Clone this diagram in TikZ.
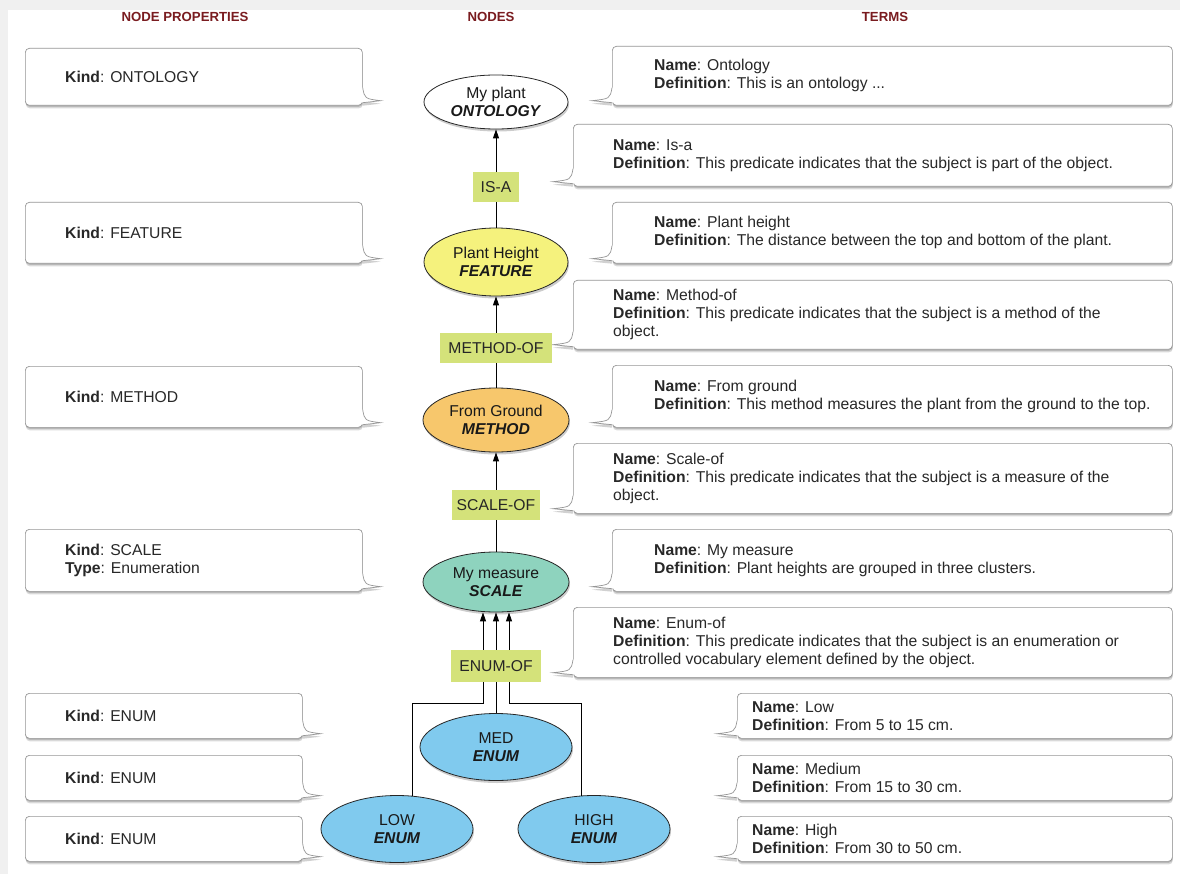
\documentclass[tikz,border=0pt]{standalone}
\usepackage{fontspec}
\setmainfont{Liberation Sans}
\usetikzlibrary{shapes.geometric,shadows,arrows.meta,calc}
\definecolor{hdr}{RGB}{122,28,32}
\definecolor{lblg}{RGB}{212,226,122}
\definecolor{cyel}{RGB}{245,242,125}
\definecolor{corg}{RGB}{247,199,108}
\definecolor{cteal}{RGB}{142,211,190}
\definecolor{cblue}{RGB}{128,202,238}
\definecolor{txt}{RGB}{40,40,40}
\definecolor{bline}{RGB}{150,150,150}
\newcommand\lpointer[1]{%
  \fill[black,opacity=0.18] ([yshift=15pt]#1.south east) .. controls ([xshift=2pt,yshift=4pt]#1.south east) .. ([xshift=18pt,yshift=2pt]#1.south east) -- ([yshift=0pt]#1.south east) -- cycle;
  \fill[white] ([xshift=-1.5pt,yshift=18pt]#1.south east) -- ([yshift=18pt]#1.south east) .. controls ([xshift=2pt,yshift=7pt]#1.south east) .. ([xshift=18pt,yshift=5pt]#1.south east) -- ([yshift=3pt]#1.south east) -- ([xshift=-1.5pt,yshift=3pt]#1.south east) -- cycle;
  \draw[callline] ([yshift=18pt]#1.south east) .. controls ([xshift=2pt,yshift=7pt]#1.south east) .. ([xshift=18pt,yshift=5pt]#1.south east) -- ([yshift=3pt]#1.south east);
}
\newcommand\rpointer[1]{%
  \fill[black,opacity=0.18] ([yshift=15pt]#1.south west) .. controls ([xshift=-2pt,yshift=4pt]#1.south west) .. ([xshift=-20pt,yshift=2pt]#1.south west) -- ([yshift=0pt]#1.south west) -- cycle;
  \fill[white] ([xshift=1.5pt,yshift=18pt]#1.south west) -- ([yshift=18pt]#1.south west) .. controls ([xshift=-2pt,yshift=7pt]#1.south west) .. ([xshift=-20pt,yshift=5pt]#1.south west) -- ([yshift=3pt]#1.south west) -- ([xshift=1.5pt,yshift=3pt]#1.south west) -- cycle;
  \draw[callline] ([yshift=18pt]#1.south west) .. controls ([xshift=-2pt,yshift=7pt]#1.south west) .. ([xshift=-20pt,yshift=5pt]#1.south west) -- ([yshift=3pt]#1.south west);
}
\begin{document}
\begin{tikzpicture}[x=1pt,y=-1pt,
  callline/.style={draw=bline, line width=0.7pt},
  callbox/.style={draw=bline, line width=0.7pt, fill=white, rounded corners=4pt, inner sep=0pt, anchor=north west,
    drop shadow={shadow xshift=0.5pt, shadow yshift=-3pt, opacity=0.15, fill=black},
    drop shadow={shadow xshift=0.3pt, shadow yshift=-1.5pt, opacity=0.15, fill=black}},
  ptext/.style={anchor=west, align=left, inner sep=0pt, text=txt, font=\fontsize{15.7}{18}\selectfont},
  hdrtext/.style={font=\bfseries\fontsize{13.2}{15}\selectfont, text=hdr, inner sep=0pt},
  ell/.style={ellipse, draw=black!85, line width=0.8pt, inner sep=0pt, align=center, text=black!90,
    font=\fontsize{15.7}{18}\selectfont,
    drop shadow={shadow xshift=1pt, shadow yshift=-2.5pt, opacity=0.2, fill=black}},
  lbl/.style={fill=lblg, inner sep=0pt, text=black!85, font=\fontsize{15.7}{17}\selectfont, minimum height=30pt},
  conn/.style={draw=black, line width=0.9pt},
  arr/.style={conn, -{Triangle[length=9pt,width=6pt]}}
]
\useasboundingbox (0,0) rectangle (1180,874);
\fill[black!6] (0,0) rectangle (1180,874);
\fill[white] (8,10) rectangle (1180,874);

% headers
\node[hdrtext] (h1) at (185,17) {NODE PROPERTIES};
\node[hdrtext] (h2) at (491,17) {NODES};
\node[hdrtext] (h3) at (885,17) {TERMS};

% left callouts
\node[callbox, minimum width=337pt, minimum height=57pt] (p1) at (25,48) {};
\node[callbox, minimum width=337pt, minimum height=61pt] (p2) at (25,202) {};
\node[callbox, minimum width=337pt, minimum height=61pt] (p3) at (25,366) {};
\node[callbox, minimum width=337pt, minimum height=62pt] (p4) at (25,529) {};
\node[callbox, minimum width=277pt, minimum height=45pt] (p5) at (25,693) {};
\node[callbox, minimum width=277pt, minimum height=45pt] (p6) at (25,755) {};
\node[callbox, minimum width=277pt, minimum height=45pt] (p7) at (25,816) {};
\foreach \n in {p1,p2,p3,p4,p5,p6,p7} {\lpointer{\n}}
\node[ptext] (p1t) at ([xshift=40pt]p1.west) {\textbf{Kind}: ONTOLOGY};
\node[ptext] (p2t) at ([xshift=40pt]p2.west) {\textbf{Kind}: FEATURE};
\node[ptext] (p3t) at ([xshift=40pt]p3.west) {\textbf{Kind}: METHOD};
\node[ptext] (p4t) at ([xshift=40pt]p4.west) {\textbf{Kind}: SCALE\\\textbf{Type}: Enumeration};
\node[ptext] (p5t) at ([xshift=40pt]p5.west) {\textbf{Kind}: ENUM};
\node[ptext] (p6t) at ([xshift=40pt]p6.west) {\textbf{Kind}: ENUM};
\node[ptext] (p7t) at ([xshift=40pt]p7.west) {\textbf{Kind}: ENUM};

% right callouts
\node[callbox, minimum width=560pt, minimum height=59pt] (t1) at (612,46) {};
\node[callbox, minimum width=599pt, minimum height=62pt] (t2) at (573,124) {};
\node[callbox, minimum width=560pt, minimum height=61pt] (t3) at (612,202) {};
\node[callbox, minimum width=599pt, minimum height=69pt] (t4) at (573,280) {};
\node[callbox, minimum width=560pt, minimum height=62pt] (t5) at (612,365) {};
\node[callbox, minimum width=599pt, minimum height=70pt] (t6) at (573,443) {};
\node[callbox, minimum width=560pt, minimum height=62pt] (t7) at (612,529) {};
\node[callbox, minimum width=599pt, minimum height=70pt] (t8) at (573,607) {};
\node[callbox, minimum width=435pt, minimum height=45pt] (t9) at (737,693) {};
\node[callbox, minimum width=435pt, minimum height=45pt] (t10) at (737,755) {};
\node[callbox, minimum width=435pt, minimum height=45pt] (t11) at (737,816) {};
\foreach \n in {t1,t2,t3,t4,t5,t6,t7,t8,t9,t10,t11} {\rpointer{\n}}
\node[ptext] (t1t) at ([xshift=42pt]t1.west) {\textbf{Name}: Ontology\\\textbf{Definition}: This is an ontology ...};
\node[ptext] (t2t) at ([xshift=40pt]t2.west) {\textbf{Name}: Is-a\\\textbf{Definition}: This predicate indicates that the subject is part of the object.};
\node[ptext] (t3t) at ([xshift=42pt]t3.west) {\textbf{Name}: Plant height\\\textbf{Definition}: The distance between the top and bottom of the plant.};
\node[ptext] (t4t) at ([xshift=40pt]t4.west) {\textbf{Name}: Method-of\\\textbf{Definition}: This predicate indicates that the subject is a method of the\\object.};
\node[ptext] (t5t) at ([xshift=42pt]t5.west) {\textbf{Name}: From ground\\\textbf{Definition}: This method measures the plant from the ground to the top.};
\node[ptext] (t6t) at ([xshift=40pt]t6.west) {\textbf{Name}: Scale-of\\\textbf{Definition}: This predicate indicates that the subject is a measure of the\\object.};
\node[ptext] (t7t) at ([xshift=42pt]t7.west) {\textbf{Name}: My measure\\\textbf{Definition}: Plant heights are grouped in three clusters.};
\node[ptext] (t8t) at ([xshift=40pt]t8.west) {\textbf{Name}: Enum-of\\\textbf{Definition}: This predicate indicates that the subject is an enumeration or\\controlled vocabulary element defined by the object.};
\node[ptext] (t9t) at ([xshift=15pt]t9.west) {\textbf{Name}: Low\\\textbf{Definition}: From 5 to 15 cm.};
\node[ptext] (t10t) at ([xshift=15pt]t10.west) {\textbf{Name}: Medium\\\textbf{Definition}: From 15 to 30 cm.};
\node[ptext] (t11t) at ([xshift=15pt]t11.west) {\textbf{Name}: High\\\textbf{Definition}: From 30 to 50 cm.};

% central nodes
\node[ell, fill=white, minimum width=144pt, minimum height=54pt] (onto) at (496,102) {My plant\\\textbf{\textit{ONTOLOGY}}};
\node[lbl, minimum width=46pt] (isa) at (496,187) {IS-A};
\node[ell, fill=cyel, minimum width=144pt, minimum height=68pt] (feat) at (496,262) {Plant Height\\\textbf{\textit{FEATURE}}};
\node[lbl, minimum width=112pt] (methof) at (496,348) {METHOD-OF};
\node[ell, fill=corg, minimum width=146pt, minimum height=64pt] (meth) at (496,420) {From Ground\\\textbf{\textit{METHOD}}};
\node[lbl, minimum width=88pt] (scaleof) at (496,505) {SCALE-OF};
\node[ell, fill=cteal, minimum width=146pt, minimum height=60pt] (scale) at (496,582) {My measure\\\textbf{\textit{SCALE}}};
\node[lbl, minimum width=90pt, minimum height=32pt] (enumof) at (496,666) {ENUM-OF};
\node[ell, fill=cblue, minimum width=152pt, minimum height=67pt] (med) at (496,747) {MED\\\textbf{\textit{ENUM}}};
\node[ell, fill=cblue, minimum width=152pt, minimum height=67pt] (low) at (397,829) {LOW\\\textbf{\textit{ENUM}}};
\node[ell, fill=cblue, minimum width=152pt, minimum height=67pt] (high) at (594,829) {HIGH\\\textbf{\textit{ENUM}}};

% connectors
\draw[conn] (feat) -- (isa);
\draw[arr] (isa) -- (onto);
\draw[conn] (meth) -- (methof);
\draw[arr] (methof) -- (feat);
\draw[conn] (scale) -- (scaleof);
\draw[arr] (scaleof) -- (meth);
\draw[arr] ([xshift=-13pt]enumof.north) -- ([xshift=-13pt]enumof.north |- scale.south);
\draw[arr] (enumof.north) -- (scale.south);
\draw[arr] ([xshift=13pt]enumof.north) -- ([xshift=13pt]enumof.north |- scale.south);
\coordinate (jl) at ([xshift=-13pt,yshift=-21pt]enumof.south);
\coordinate (jr) at ([xshift=13pt,yshift=-21pt]enumof.south);
\draw[conn] ([xshift=-13pt]enumof.south) -- (jl) -| (low.65);
\draw[conn] (enumof.south) -- (med.north);
\draw[conn] ([xshift=13pt]enumof.south) -- (jr) -| (high.111);
\end{tikzpicture}
\end{document}
